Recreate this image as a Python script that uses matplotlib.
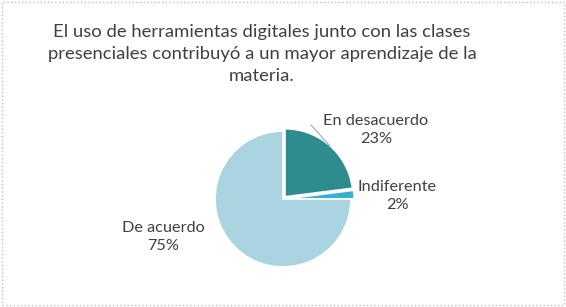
import matplotlib
matplotlib.use("Agg")
import matplotlib.pyplot as plt
from matplotlib.patches import Rectangle

# datos
labels = ['En desacuerdo', 'Indiferente', 'De acuerdo']
values = [23, 2, 75]
colors = ['#2f8c8e', '#3aaed0', '#a9d4e0']
title = ('El uso de herramientas digitales junto con las clases\n'
         'presenciales contribuyó a un mayor aprendizaje de la\n'
         'materia.')

plt.rcParams['font.family'] = ['Lato', 'DejaVu Sans']

fig = plt.figure(figsize=(5.66, 3.07), dpi=100)
ax = fig.add_axes([0, 0, 1, 1])

# pie en coordenadas de pixel (y hacia arriba)
wedges, _ = ax.pie(values, colors=colors, startangle=90, counterclock=False,
                   center=(283, 108), radius=68, explode=[3, 3, 0],
                   wedgeprops=dict(edgecolor='white', linewidth=1.2),
                   frame=True)
ax.set_xlim(0, 566)
ax.set_ylim(0, 307)
ax.set_aspect('equal')
ax.axis('off')

# etiquetas
txt = dict(ha='center', va='center', fontsize=11.7, color='#404040',
           linespacing=1.45)
ax.text(376, 307 - 130, labels[0] + '\n' + str(values[0]) + '%', **txt)
ax.text(397, 307 - 196, labels[1] + '\n' + str(values[1]) + '%', **txt)
ax.text(163, 307 - 237, labels[2] + '\n' + str(values[2]) + '%', **txt)
ax.plot([311, 330], [307 - 125, 307 - 146], color='#a6a6a6', lw=0.8)

fig.text(262 / 566, 1 - 54 / 307, title, ha='center', va='center',
         fontsize=13.3, color='#404040', linespacing=1.45)

fig.patches.append(Rectangle((0.003, 0.005), 0.994, 0.99,
                             transform=fig.transFigure, fill=False,
                             edgecolor='#bfbfbf', lw=1, ls=':'))

fig.savefig('out.png', dpi=100, facecolor='white')
